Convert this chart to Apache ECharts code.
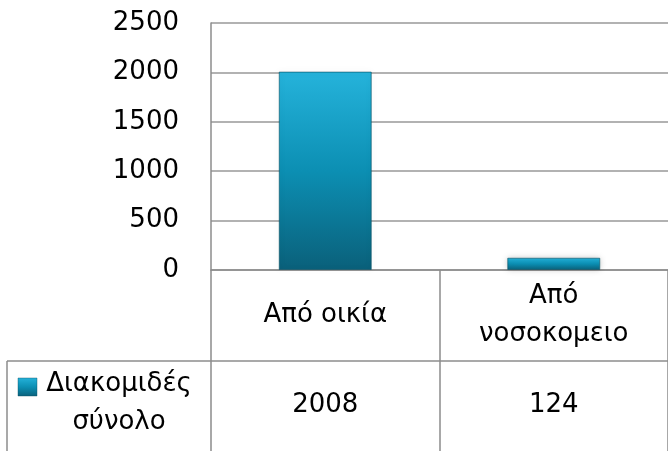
<!DOCTYPE html>
<html><head><meta charset="utf-8">
<script src="https://cdn.jsdelivr.net/npm/echarts@6/dist/echarts.min.js"></script>
<style>html,body{margin:0;padding:0;background:#fff}#c{width:668px;height:451px}</style>
</head><body><div id="c"></div>
<script>
var categories = ['Από οικία', 'Από νοσοκομειο'];
var categoryLabels = ['Από οικία', 'Από\nνοσοκομειο'];
var seriesName = 'Διακομιδές σύνολο';
var values = [2008, 124];
var yTicks = [0, 500, 1000, 1500, 2000, 2500];

var FONT = 'DejaVu Sans';
var FS = 26;
var chart = echarts.init(document.getElementById('c'), null, {renderer: 'canvas'});
var barColor = new echarts.graphic.LinearGradient(0, 0, 0, 1, [
  {offset: 0, color: '#25b3db'},
  {offset: 0.5, color: '#0c8fb3'},
  {offset: 1, color: '#0a607a'}
]);
var option = {
  animation: false,
  grid: {left: 211, top: 23, width: 461, height: 247, containLabel: false},
  xAxis: {
    type: 'category', data: categories,
    axisLine: {lineStyle: {color: '#8c8c8c', width: 1.5}},
    axisTick: {show: true, interval: 0, length: 181, lineStyle: {color: '#8c8c8c', width: 1.5}},
    axisLabel: {interval: 0, margin: 45, verticalAlign: 'middle', fontFamily: FONT, fontSize: FS, color: '#000',
      lineHeight: 38, align: 'center',
      formatter: function (v, i) { return categoryLabels[i]; }},
    splitLine: {show: false}
  },
  yAxis: {
    type: 'value', min: yTicks[0], max: yTicks[yTicks.length - 1], interval: yTicks[1] - yTicks[0],
    axisLine: {show: true, lineStyle: {color: '#8c8c8c', width: 1.5}},
    axisTick: {show: false},
    axisLabel: {margin: 32, fontFamily: FONT, fontSize: FS, color: '#000', formatter: function (v) { return String(v); }},
    splitLine: {lineStyle: {color: '#999', width: 1.5}}
  },
  series: [{
    name: seriesName, type: 'bar', data: values, barWidth: 93,
    itemStyle: {color: barColor, borderColor: 'rgba(10,80,100,0.35)', borderWidth: 1,
      shadowBlur: 6, shadowColor: 'rgba(0,0,0,0.22)'}
  }]
};
chart.setOption(option);

var right = 672, rowTop = 361, tableLeft = 7;
var font = FS + 'px "' + FONT + '"';
var graphics = [
  {type: 'line', shape: {x1: tableLeft, y1: rowTop, x2: right, y2: rowTop}, style: {stroke: '#8c8c8c', lineWidth: 1.5}},
  {type: 'line', shape: {x1: tableLeft, y1: rowTop, x2: tableLeft, y2: 451}, style: {stroke: '#8c8c8c', lineWidth: 1.5}},
  {type: 'rect', shape: {x: 18, y: 378, width: 19, height: 18}, style: {fill: barColor, stroke: 'rgba(10,80,100,0.4)', lineWidth: 1}},
  {type: 'text', x: 119, y: 384, style: {text: seriesName.split(' ')[0], font: font, fill: '#000', align: 'center', verticalAlign: 'middle'}},
  {type: 'text', x: 119, y: 422, style: {text: seriesName.split(' ')[1], font: font, fill: '#000', align: 'center', verticalAlign: 'middle'}}
];
values.forEach(function (v, i) {
  var p = chart.convertToPixel({xAxisIndex: 0, yAxisIndex: 0}, [i, 0]);
  graphics.push({type: 'text', x: p[0], y: 405, style: {text: String(v), font: font, fill: '#000', align: 'center', verticalAlign: 'middle'}});
});
chart.setOption({graphic: graphics});
</script>
</body></html>
